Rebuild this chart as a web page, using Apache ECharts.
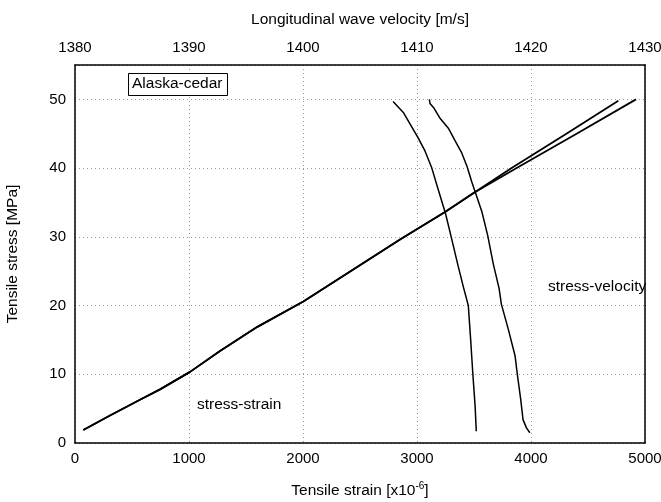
<!DOCTYPE html>
<html>
<head>
<meta charset="utf-8">
<script src="https://cdn.jsdelivr.net/npm/echarts@6/dist/echarts.min.js"></script>
<style>html,body{margin:0;padding:0;background:#fff;}#c{width:661px;height:502px;}</style>
</head>
<body>
<div id="c"></div>
<script>
// Stress-strain curves (strain x10^-6, stress MPa)
var strainA = [73, 307, 570, 746, 1009, 1272, 1600, 2003, 2588, 2851, 3246, 3500, 3830, 4300, 4766];
var stressA = [1.9, 4.0, 6.3, 7.8, 10.35, 13.4, 16.9, 20.6, 26.8, 29.6, 33.6, 36.4, 40.0, 44.9, 49.8];
var strainB = [73, 307, 570, 746, 1009, 1272, 1600, 2003, 2588, 2851, 3246, 3500, 3874, 4400, 4921];
var stressB = [1.9, 4.0, 6.3, 7.8, 10.35, 13.4, 16.9, 20.6, 26.8, 29.6, 33.6, 36.4, 40.0, 45.0, 50.0];
// Stress-velocity curves (velocity m/s, stress MPa)
var vel1 = [1407.9, 1408.8, 1409.5, 1410.1, 1410.7, 1411.3, 1411.8, 1412.5, 1413.0, 1413.6, 1414.1, 1414.5, 1414.7, 1414.9, 1415.1, 1415.2];
var sv1 = [49.7, 48.1, 46.1, 44.4, 42.5, 40.0, 37.2, 33.4, 30.0, 25.8, 22.5, 20.0, 15.2, 10.0, 5.3, 1.7];
var vel2 = [1411.08, 1411.14, 1411.5, 1412.0, 1412.75, 1413.3, 1413.9, 1414.4, 1414.8, 1415.15, 1415.7, 1416.2, 1416.7, 1417.2, 1417.4, 1418.0, 1418.6, 1418.8, 1419.1, 1419.3, 1419.6, 1419.9];
var sv2 = [50.0, 49.4, 48.7, 47.3, 45.8, 44.1, 42.3, 40.2, 38.0, 36.3, 33.6, 30.2, 26.0, 22.5, 20.2, 16.6, 12.7, 10.0, 6.3, 3.4, 2.2, 1.5];
// Axis ticks
var strainTicks = {min: 0, max: 5000, interval: 1000};
var velTicks = {min: 1380, max: 1430, interval: 10};
var stressTicks = {min: 0, max: 55, interval: 10};

function pairs(xs, ys) { return xs.map(function (x, i) { return [x, ys[i]]; }); }
function plain(v) { return String(v); }

var FONT = 'Liberation Sans';
var chart = echarts.init(document.getElementById('c'));
var grid = {left: 75, right: 16, top: 65, bottom: 59, containLabel: false, outerBoundsMode: 'none'};
var gridLine = {show: true, lineStyle: {color: '#9a9a9a', type: [1, 3], width: 1}};
var axisLine = {show: true, onZero: false, lineStyle: {color: '#000', width: 1.5}};
var lbl = {color: '#000', fontFamily: FONT, fontSize: 15, formatter: plain};
var nameStyle = {fontFamily: FONT, fontSize: 15.5, color: '#000'};

chart.setOption({
  backgroundColor: '#fff',
  animation: false,
  grid: grid,
  xAxis: [{
    type: 'value', position: 'bottom', min: strainTicks.min, max: strainTicks.max, interval: strainTicks.interval,
    axisLine: axisLine, axisTick: {show: false}, splitLine: gridLine,
    axisLabel: Object.assign({margin: 8}, lbl),
    name: '{a|Tensile strain [x10}{s|-6}{a|]}', nameLocation: 'middle', nameGap: 38,
    nameTextStyle: {rich: {a: nameStyle, s: {fontFamily: FONT, fontSize: 10, color: '#000', verticalAlign: 'top', padding: [0, 0, 9, 0]}}}
  }, {
    type: 'value', position: 'top', min: velTicks.min, max: velTicks.max, interval: velTicks.interval,
    axisLine: axisLine, axisTick: {show: false}, splitLine: {show: false},
    axisLabel: Object.assign({margin: 10}, lbl),
    name: 'Longitudinal wave velocity [m/s]', nameLocation: 'middle', nameGap: 37,
    nameTextStyle: nameStyle
  }],
  yAxis: [{
    type: 'value', min: stressTicks.min, max: stressTicks.max, interval: stressTicks.interval,
    axisLine: axisLine, axisTick: {show: false}, splitLine: gridLine,
    axisLabel: Object.assign({margin: 9, showMaxLabel: false}, lbl),
    name: 'Tensile stress [MPa]', nameLocation: 'middle', nameGap: 54,
    nameTextStyle: nameStyle
  }, {
    type: 'value', position: 'right', min: stressTicks.min, max: stressTicks.max,
    axisLine: axisLine, axisTick: {show: false}, axisLabel: {show: false}, splitLine: {show: false}
  }],
  series: [
    {type: 'line', xAxisIndex: 0, yAxisIndex: 0, data: pairs(strainA, stressA), showSymbol: false, lineStyle: {color: '#000', width: 1.8}},
    {type: 'line', xAxisIndex: 0, yAxisIndex: 0, data: pairs(strainB, stressB), showSymbol: false, lineStyle: {color: '#000', width: 1.8}},
    {type: 'line', xAxisIndex: 1, yAxisIndex: 0, data: pairs(vel1, sv1), showSymbol: false, lineStyle: {color: '#000', width: 1.5}},
    {type: 'line', xAxisIndex: 1, yAxisIndex: 0, data: pairs(vel2, sv2), showSymbol: false, lineStyle: {color: '#000', width: 1.5}}
  ],
  graphic: [
    {type: 'rect', left: 128, top: 73, shape: {width: 99, height: 22}, style: {fill: '#fff', stroke: '#000', lineWidth: 1}, z: 10},
    {type: 'text', left: 132, top: 76, style: {text: 'Alaska-cedar', fontFamily: FONT, fontSize: 15.5, fill: '#000'}, z: 11},
    {type: 'text', left: 197, top: 397, style: {text: 'stress-strain', fontFamily: FONT, fontSize: 15.5, fill: '#000'}, z: 11},
    {type: 'text', left: 548, top: 279, style: {text: 'stress-velocity', fontFamily: FONT, fontSize: 15.5, fill: '#000'}, z: 11}
  ]
});
</script>
</body>
</html>
